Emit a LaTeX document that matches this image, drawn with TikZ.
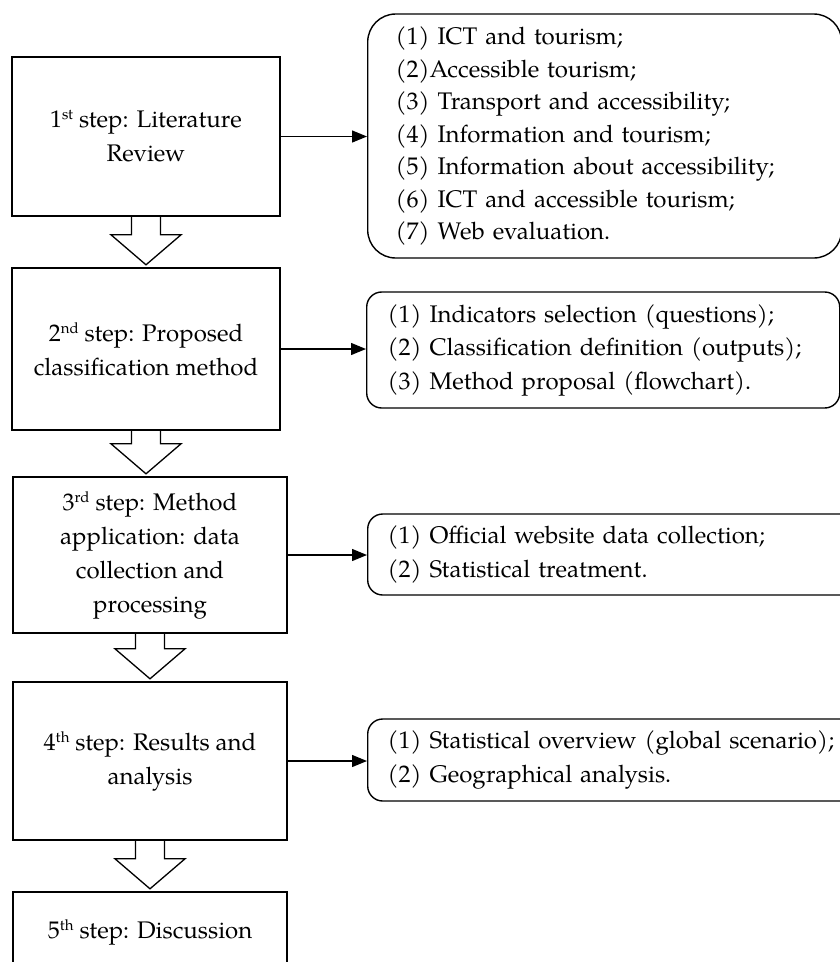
\documentclass[tikz,border=0pt]{standalone}
\usepackage{fontspec}
\setmainfont{TeX Gyre Pagella}
\usetikzlibrary{arrows.meta,calc}
\tikzset{
  stepbox/.style={draw, line width=1.4pt, inner sep=0pt, align=center,
    font=\fontsize{24}{34}\selectfont},
  listbox/.style={draw, line width=1.4pt, rounded corners=15pt, align=left,
    inner ysep=0pt, inner xsep=20pt, anchor=west, font=\fontsize{24}{33.5}\selectfont},
  link/.style={line width=1.3pt, -{Triangle[length=15pt,width=12pt]}},
  bigarr/.style={line width=1.3pt, line join=miter}
}
\newcommand\ordsup[1]{\raisebox{0.33em}{\fontsize{15}{15}\selectfont #1}}
\newcommand\hollowarrow[2]{%
  \draw[bigarr] let \p1=(#1.south), \p2=(#2.north) in
    (\x1-14.5pt,\y1) -- (\x1-14.5pt,\y2+32.5pt) -- (\x1-35pt,\y2+32.5pt)
    -- (\x1,\y2+2.5pt) -- (\x1+35pt,\y2+32.5pt) -- (\x1+14.5pt,\y2+32.5pt)
    -- (\x1+14.5pt,\y1);}
\begin{document}
\begin{tikzpicture}[x=1pt,y=-1pt]
\useasboundingbox (0,0) rectangle (840,962);
\clip (0,0) rectangle (840,962);

% left step boxes
\node[stepbox, minimum width=268pt, minimum height=159pt] (s1) at (146,136.5)
  {1\ordsup{st} step: Literature\\Review};
\node[stepbox, minimum width=268pt, minimum height=162pt] (s2) at (146,349)
  {2\ordsup{nd} step: Proposed\\classification method};
\node[stepbox, minimum width=274pt, minimum height=156pt] (s3) at (150,555)
  {3\ordsup{rd} step: Method\\application: data\\collection and\\processing};
\node[stepbox, minimum width=274pt, minimum height=158pt] (s4) at (150,761)
  {4\ordsup{th} step: Results and\\analysis};
\node[stepbox, minimum width=274pt, minimum height=80pt] (s5) at (150,932)
  {5\ordsup{th} step: Discussion};

% right list boxes
\node[listbox, rounded corners=28pt, minimum height=244pt, text width=418pt,
  inner xsep=28pt, font=\fontsize{24}{32.5}\selectfont] (r1) at (367,136)
  {(1) ICT and tourism;\\
   (2)Accessible tourism;\\
   (3) Transport and accessibility;\\
   (4) Information and tourism;\\
   (5) Information about accessibility;\\
   (6) ICT and accessible tourism;\\
   (7) Web evaluation.};
\node[listbox, minimum height=116pt, text width=431pt, inner xsep=21pt] (r2) at (366,350)
  {(1) Indicators selection (questions);\\
   (2) Classification definition (outputs);\\
   (3) Method proposal (flowchart).};
\node[listbox, minimum height=81pt, text width=453pt] (r3) at (367,554.5)
  {(1) Official website data collection;\\
   (2) Statistical treatment.};
\node[listbox, minimum height=82pt, text width=453pt] (r4) at (367,760)
  {(1) Statistical overview (global scenario);\\
   (2) Geographical analysis.};

% connectors
\draw[link] (s1.east) -- (s1.east -| r1.west);
\draw[link] (s2.east) -- (s2.east -| r2.west);
\draw[link] (s3.east) -- (s3.east -| r3.west);
\draw[link] (s4.east) -- (s4.east -| r4.west);

% hollow down arrows
\hollowarrow{s1}{s2}
\hollowarrow{s2}{s3}
\hollowarrow{s3}{s4}
\hollowarrow{s4}{s5}
\end{tikzpicture}
\end{document}
